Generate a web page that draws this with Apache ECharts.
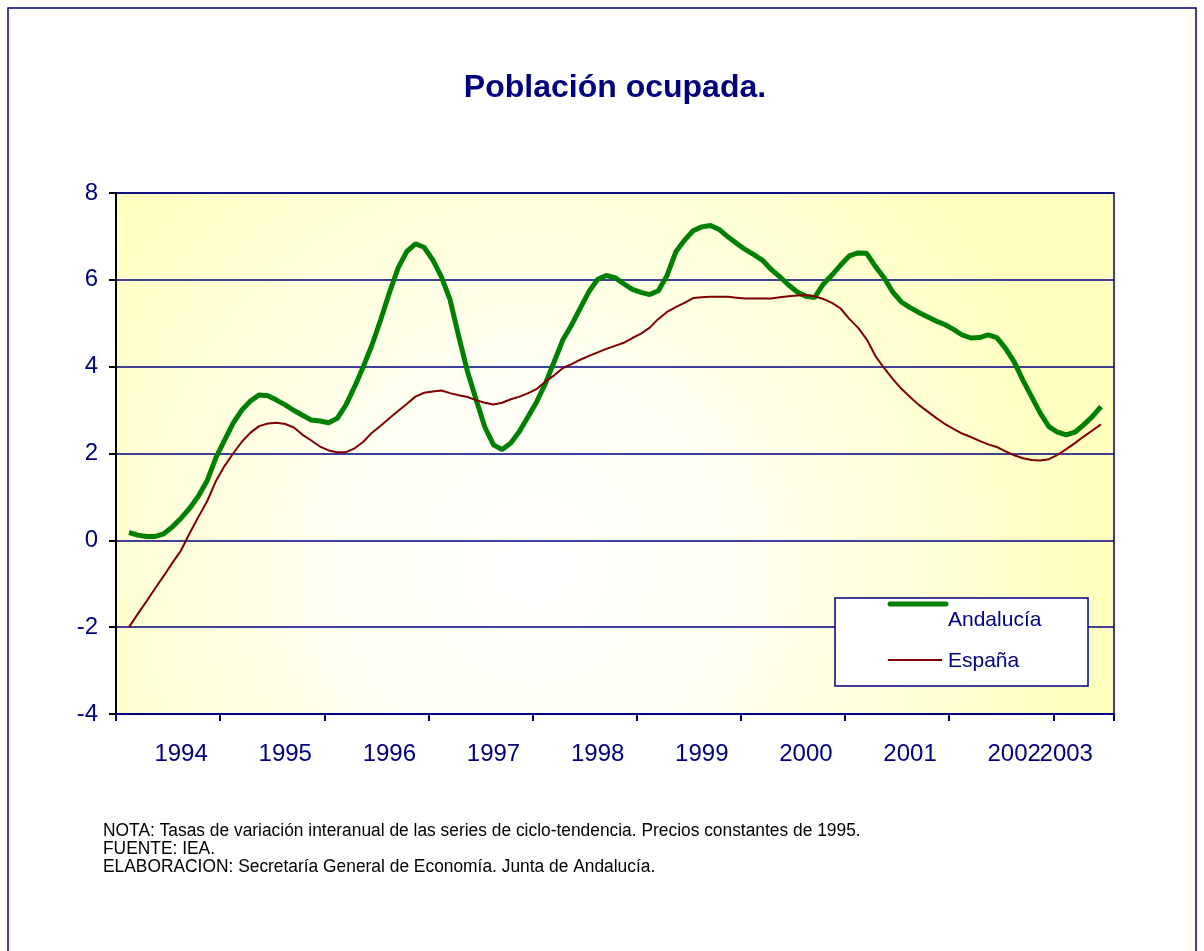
<!DOCTYPE html>
<html><head><meta charset="utf-8">
<script src="https://cdn.jsdelivr.net/npm/echarts@6/dist/echarts.min.js"></script>
<style>html,body{margin:0;padding:0;background:#fff}#c{width:1204px;height:951px}</style>
</head><body><div id="c"></div>
<script>
// ---- data (monthly, interannual % change) ----
const andalucia = [0.18,0.12,0.09,0.09,0.15,0.31,0.51,0.74,1.02,1.37,1.90,2.30,2.70,3.00,3.21,3.35,3.33,3.23,3.12,2.99,
2.88,2.77,2.75,2.71,2.81,3.12,3.54,4.00,4.50,5.08,5.70,6.27,6.65,6.83,6.75,6.46,6.07,5.54,4.69,3.89,
3.24,2.61,2.20,2.09,2.24,2.51,2.85,3.20,3.62,4.12,4.62,4.96,5.35,5.73,6.01,6.10,6.05,5.91,5.78,5.71,
5.66,5.75,6.10,6.64,6.91,7.13,7.22,7.25,7.16,6.99,6.84,6.70,6.58,6.45,6.24,6.07,5.88,5.72,5.62,5.59,
5.90,6.11,6.34,6.55,6.62,6.61,6.31,6.05,5.72,5.49,5.36,5.25,5.15,5.05,4.97,4.86,4.73,4.66,4.67,4.73,
4.67,4.42,4.11,3.69,3.31,2.93,2.62,2.49,2.43,2.49,2.66,2.85,3.08];
const espana = [-2.00,-1.70,-1.41,-1.11,-0.82,-0.52,-0.23,0.17,0.54,0.90,1.36,1.71,2.00,2.27,2.48,2.63,2.69,2.71,2.68,2.60,
2.43,2.30,2.16,2.07,2.03,2.03,2.12,2.27,2.48,2.64,2.81,2.98,3.14,3.31,3.40,3.43,3.45,3.39,3.34,3.30,
3.23,3.17,3.13,3.17,3.25,3.31,3.39,3.49,3.66,3.80,3.97,4.06,4.16,4.25,4.33,4.41,4.48,4.55,4.66,4.76,
4.90,5.10,5.26,5.37,5.47,5.58,5.60,5.61,5.61,5.61,5.59,5.57,5.57,5.57,5.57,5.60,5.62,5.64,5.65,5.62,
5.56,5.47,5.34,5.10,4.90,4.63,4.25,3.97,3.72,3.49,3.30,3.12,2.97,2.82,2.68,2.57,2.46,2.38,2.29,2.21,
2.15,2.05,1.96,1.89,1.85,1.84,1.87,1.97,2.10,2.24,2.39,2.53,2.67];
const seriesNames = ['Andalucía', 'España'];
const seriesColors = ['#008000', '#800000'];
const yearLabels = ['1994','1995','1996','1997','1998','1999','2000','2001','2002','2003'];
const yearLabelIndex = [7,19,31,43,55,67,79,91,103,109];
const nCategories = 115;
const firstDataIndex = 1;
const tickEvery = 12;
const yMin = -4, yMax = 8, yStep = 2;
const titleText = 'Población ocupada.';
const noteLines = [
  'NOTA: Tasas de variación interanual de las series de ciclo-tendencia. Precios constantes de 1995.',
  'FUENTE: IEA.',
  'ELABORACION: Secretaría General de Economía. Junta de Andalucía.'
];

// ---- build ----
const NAVY = '#000080';
const FONT = '"Liberation Sans", Arial, sans-serif';
const categories = [];
for (let i = 0; i < nCategories; i++) categories.push('m' + i);
const labelMap = {};
yearLabelIndex.forEach((idx, k) => { labelMap[idx] = yearLabels[k]; });
function place(vals) {
  const out = new Array(nCategories).fill(null);
  vals.forEach((v, k) => { out[firstDataIndex + k] = v; });
  return out;
}

const legendGraphics = [
  {type: 'rect', x: 835, y: 598, z: 5, silent: true,
   shape: {width: 253, height: 88}, style: {fill: '#ffffff', stroke: NAVY, lineWidth: 1.5}},
  {type: 'line', z: 6, silent: true, shape: {x1: 890, y1: 604, x2: 946, y2: 604},
   style: {stroke: seriesColors[0], lineWidth: 5, lineCap: 'round'}},
  {type: 'text', x: 948, y: 620, z: 6, silent: true,
   style: {text: seriesNames[0], fill: NAVY, font: '21px ' + FONT, verticalAlign: 'middle', textVerticalAlign: 'middle'}},
  {type: 'line', z: 6, silent: true, shape: {x1: 888, y1: 660, x2: 942, y2: 660},
   style: {stroke: seriesColors[1], lineWidth: 2}},
  {type: 'text', x: 948, y: 661, z: 6, silent: true,
   style: {text: seriesNames[1], fill: NAVY, font: '21px ' + FONT, verticalAlign: 'middle', textVerticalAlign: 'middle'}}
];

const chart = echarts.init(document.getElementById('c'), null, {renderer: 'canvas'});
chart.setOption({
  animation: false,
  backgroundColor: '#ffffff',
  grid: {
    left: 116, top: 193, width: 998, height: 521, show: true,
    borderColor: NAVY, borderWidth: 1.5,
    backgroundColor: {
      type: 'radial', x: 0.42, y: 0.72, r: 1.05,
      colorStops: [{offset: 0, color: '#ffffff'}, {offset: 0.35, color: '#fffff4'}, {offset: 1, color: '#ffffc0'}]
    }
  },
  xAxis: {
    type: 'category', data: categories, boundaryGap: true,
    axisLine: {onZero: false, lineStyle: {color: NAVY, width: 2}},
    axisTick: {show: true, interval: (i) => i % tickEvery === 0, length: 7, lineStyle: {color: NAVY, width: 2}},
    axisLabel: {
      interval: 0, margin: 28, color: NAVY, fontSize: 24, fontFamily: FONT,
      formatter: (v, i) => labelMap[i] || ''
    },
    splitLine: {show: false}
  },
  yAxis: {
    type: 'value', min: yMin, max: yMax, interval: yStep,
    axisLine: {show: true, lineStyle: {color: '#000000', width: 2}},
    axisTick: {show: true, length: 7, lineStyle: {color: '#000000', width: 2}},
    axisLabel: {color: NAVY, fontSize: 24, fontFamily: FONT, margin: 18},
    splitLine: {show: true, lineStyle: {color: NAVY, width: 1.5}}
  },
  series: [
    {
      name: seriesNames[0], type: 'line', data: place(andalucia), symbol: 'none', smooth: false,
      lineStyle: {color: seriesColors[0], width: 5}, itemStyle: {color: seriesColors[0]}, z: 2
    },
    {
      name: seriesNames[1], type: 'line', data: place(espana), symbol: 'none', smooth: false,
      lineStyle: {color: seriesColors[1], width: 2}, itemStyle: {color: seriesColors[1]}, z: 3
    }
  ],
  graphic: [
    {type: 'rect', x: 0, y: 0, z: -10, silent: true,
     shape: {x: 8, y: 8, width: 1188, height: 980}, style: {fill: null, stroke: NAVY, lineWidth: 1.5}},
    {type: 'text', x: 615, y: 88, z: 5, silent: true,
     style: {text: titleText, fill: NAVY, font: 'bold 32px ' + FONT, align: 'center', textAlign: 'center',
             verticalAlign: 'middle', textVerticalAlign: 'middle'}}
  ].concat(legendGraphics).concat(noteLines.map((t, k) => ({
    type: 'text', x: 103, y: 831 + k * 18, scaleX: 0.965, z: 5, silent: true,
    style: {text: t, fill: '#000000', font: '18px ' + FONT, textVerticalAlign: 'middle', verticalAlign: 'middle'}
  })))
});
</script>
</body></html>
